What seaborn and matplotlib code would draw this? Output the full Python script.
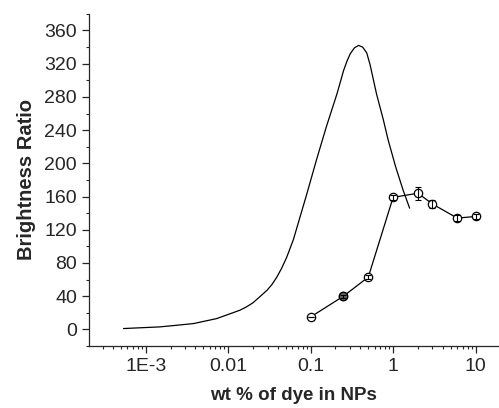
import numpy as np
import pandas as pd
import seaborn as sns
import matplotlib
matplotlib.use("Agg")
import matplotlib.pyplot as plt
from matplotlib.ticker import FixedLocator, FixedFormatter, MultipleLocator, LogLocator, NullFormatter

# curve (log10 of wt %, brightness ratio)
curve_logx = [-3.27, -3.05, -2.83, -2.62, -2.42, -2.28, -2.14, -2.00, -1.86, -1.78,
              -1.70, -1.62, -1.53, -1.47, -1.41, -1.35, -1.29, -1.21, -1.13, -1.05,
              -0.93, -0.81, -0.68, -0.64, -0.60, -0.56, -0.52, -0.47, -0.42, -0.37,
              -0.32, -0.28, -0.24, -0.20, -0.12, -0.06, 0.03, 0.12, 0.20]
curve_y = [1, 2, 3, 5, 7, 10, 13, 18, 23, 27,
           32, 39, 47, 54, 63, 74, 87, 108, 135, 162,
           204, 244, 284, 298, 312, 323, 332, 339, 342, 340,
           333, 319, 301, 283, 253, 228, 196, 168, 146]

# measured points
wt = [0.1, 0.25, 0.5, 1, 2, 3, 6, 10]
ratio = [15, 40, 63, 159, 164, 151, 134, 136]
err = [0, 2, 2, 3, 8, 5, 4, 3]

curve = pd.DataFrame({"wt": np.power(10.0, curve_logx), "ratio": curve_y})
meas = pd.DataFrame({"wt": wt, "ratio": ratio, "err": err})

sns.set_style("ticks")
plt.rcParams["font.family"] = ["Liberation Sans", "DejaVu Sans"]

fig = plt.figure(figsize=(4.99, 4.08), dpi=100)
ax = fig.add_axes([0.178, 0.152, 0.82, 0.814])

sns.lineplot(data=curve, x="wt", y="ratio", color="black", lw=0.9, ax=ax, sort=False)
sns.lineplot(data=meas, x="wt", y="ratio", color="black", lw=0.9, ax=ax,
             marker="o", markersize=6, markerfacecolor="white",
             markeredgecolor="black", markeredgewidth=0.9)
ax.plot(wt[1], ratio[1], "o", ms=6, mfc="#666666", mec="black", mew=0.9)
ax.errorbar(meas["wt"], meas["ratio"], yerr=meas["err"], fmt="none",
            ecolor="black", elinewidth=0.8, capsize=2.5, capthick=0.8, zorder=5)

ax.set_xscale("log")
ax.set_xlim(2.04e-4, 18.7)
ax.set_ylim(-20, 380)

ax.xaxis.set_major_locator(FixedLocator([1e-3, 1e-2, 1e-1, 1, 10]))
ax.xaxis.set_major_formatter(FixedFormatter(["1E-3", "0.01", "0.1", "1", "10"]))
ax.xaxis.set_minor_locator(LogLocator(base=10, subs=np.arange(2, 10), numticks=20))
ax.xaxis.set_minor_formatter(NullFormatter())
ax.yaxis.set_major_locator(FixedLocator(np.arange(0, 361, 40)))
ax.yaxis.set_minor_locator(MultipleLocator(20))

ax.tick_params(which="major", length=5, width=0.9, labelsize=14, direction="out")
ax.tick_params(which="minor", length=2.5, width=0.8, direction="out")
for s in ["top", "right"]:
    ax.spines[s].set_visible(False)
for s in ["left", "bottom"]:
    ax.spines[s].set_linewidth(0.9)

ax.set_xlabel("wt % of dye in NPs", fontsize=13.5, fontweight="bold", labelpad=9)
ax.set_ylabel("Brightness Ratio", fontsize=14.5, fontweight="bold", labelpad=6)

fig.savefig("out.png", dpi=100)
